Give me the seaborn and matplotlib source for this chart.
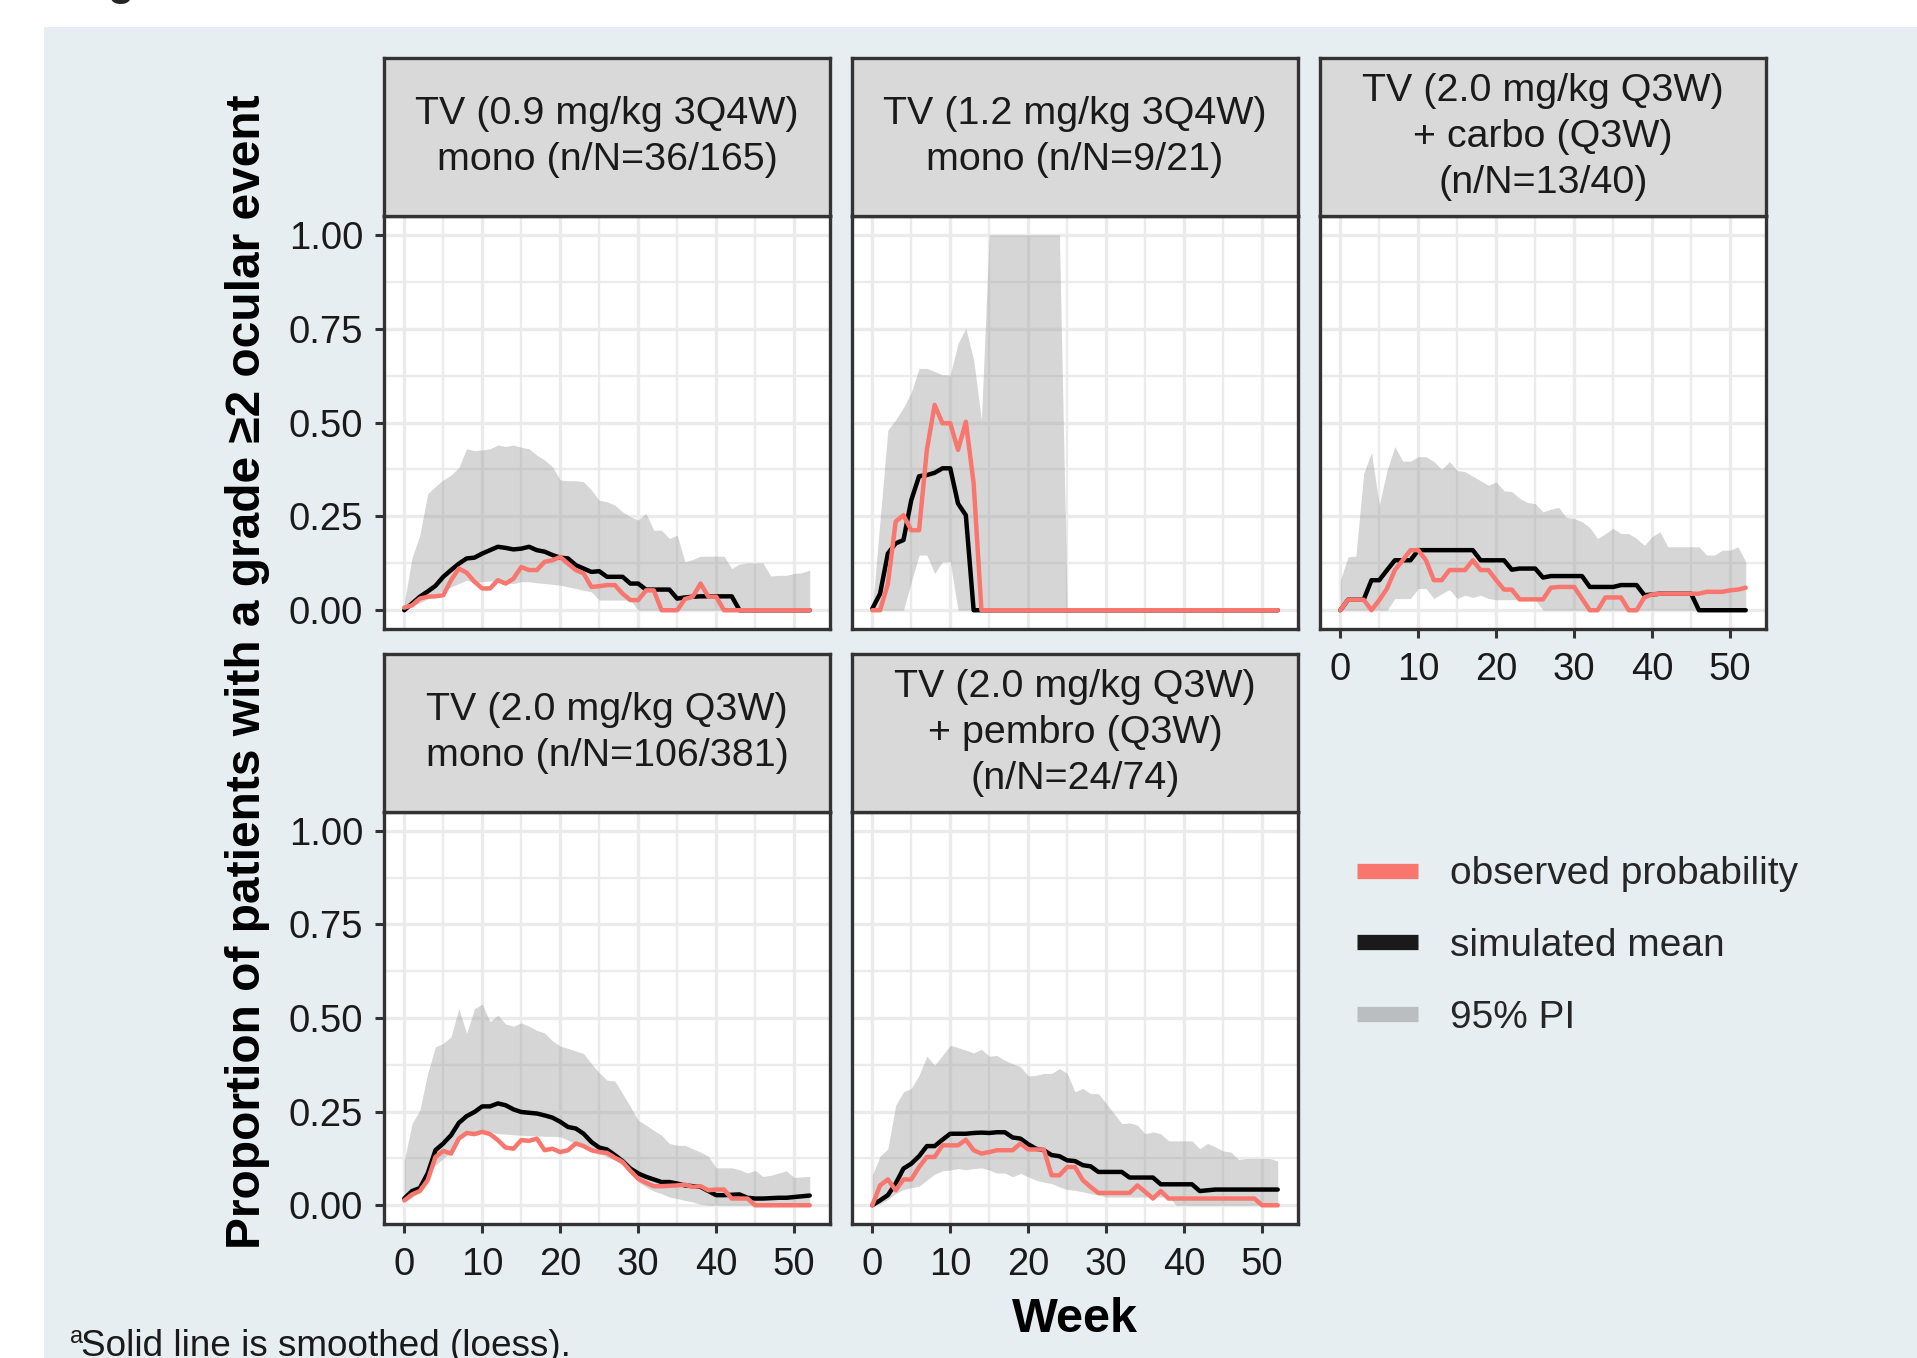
import matplotlib
matplotlib.use('Agg')
import matplotlib.pyplot as plt
import seaborn as sns
import pandas as pd
from matplotlib.lines import Line2D
from matplotlib.patches import Rectangle

# weeks 0..52, one value per week
weeks = list(range(53))

panel_labels = [
    'TV (0.9 mg/kg 3Q4W)\nmono (n/N=36/165)',
    'TV (1.2 mg/kg 3Q4W)\nmono (n/N=9/21)',
    'TV (2.0 mg/kg Q3W)\n+ carbo (Q3W)\n(n/N=13/40)',
    'TV (2.0 mg/kg Q3W)\nmono (n/N=106/381)',
    'TV (2.0 mg/kg Q3W)\n+ pembro (Q3W)\n(n/N=24/74)',
]

# panel 1
obs1 = [0.007, 0.013, 0.031, 0.036, 0.037, 0.04, 0.08, 0.111, 0.1, 0.076, 0.058, 0.058, 0.08, 0.071,
        0.084, 0.115, 0.107, 0.107, 0.129, 0.133, 0.142, 0.124, 0.107, 0.098, 0.062, 0.064, 0.067,
        0.067, 0.044, 0.027, 0.027, 0.053, 0.053, 0, 0, 0, 0.03, 0.036, 0.071, 0.036, 0.036, 0,
        0, 0, 0, 0, 0, 0, 0, 0, 0, 0, 0]
sim1 = [0, 0.018, 0.036, 0.05, 0.065, 0.089, 0.107, 0.124, 0.138, 0.14, 0.151, 0.16, 0.169, 0.166,
        0.162, 0.164, 0.169, 0.16, 0.156, 0.147, 0.14, 0.138, 0.12, 0.111, 0.102, 0.104, 0.089,
        0.089, 0.089, 0.071, 0.071, 0.055, 0.055, 0.055, 0.055, 0.031, 0.034, 0.036, 0.037, 0.037,
        0.037, 0.037, 0.037, 0, 0, 0, 0, 0, 0, 0, 0, 0, 0]
hi1 = [0.02, 0.14, 0.2, 0.31, 0.33, 0.347, 0.36, 0.38, 0.43, 0.425, 0.427, 0.43, 0.44, 0.436, 0.44,
       0.434, 0.43, 0.413, 0.4, 0.382, 0.347, 0.345, 0.345, 0.342, 0.32, 0.293, 0.289, 0.28, 0.262,
       0.249, 0.24, 0.258, 0.213, 0.213, 0.191, 0.2, 0.129, 0.135, 0.144, 0.144, 0.144, 0.144,
       0.111, 0.123, 0.126, 0.126, 0.126, 0.091, 0.093, 0.093, 0.098, 0.1, 0.107]
lo1 = [0, 0.01, 0.02, 0.03, 0.04, 0.053, 0.062, 0.071, 0.08, 0.073, 0.076, 0.078, 0.076, 0.071,
       0.071, 0.076, 0.076, 0.073, 0.071, 0.069, 0.067, 0.062, 0.058, 0.053, 0.049, 0.027, 0.027,
       0.027, 0.027, 0.027, 0, 0, 0, 0, 0, 0, 0, 0, 0, 0, 0, 0, 0, 0, 0, 0, 0, 0, 0, 0, 0, 0, 0]

# panel 2
obs2 = [0, 0, 0.07, 0.236, 0.253, 0.213, 0.213, 0.427, 0.547, 0.498, 0.498, 0.427, 0.502, 0.338,
        0, 0, 0, 0, 0, 0, 0, 0, 0, 0, 0, 0, 0, 0, 0, 0, 0, 0, 0, 0, 0, 0, 0, 0, 0, 0, 0, 0, 0,
        0, 0, 0, 0, 0, 0, 0, 0, 0, 0]
sim2 = [0.004, 0.044, 0.151, 0.178, 0.187, 0.293, 0.357, 0.36, 0.366, 0.378, 0.378, 0.284, 0.253,
        0, 0, 0, 0, 0, 0, 0, 0, 0, 0, 0, 0, 0, 0, 0, 0, 0, 0, 0, 0, 0, 0, 0, 0, 0, 0, 0, 0, 0,
        0, 0, 0, 0, 0, 0, 0, 0, 0, 0, 0]
hi2 = [0, 0.24, 0.48, 0.507, 0.54, 0.58, 0.644, 0.644, 0.636, 0.627, 0.627, 0.711, 0.751, 0.667,
       0.507, 1, 1, 1, 1, 1, 1, 1, 1, 1, 1, 0, 0, 0, 0, 0, 0, 0, 0, 0, 0, 0, 0, 0, 0, 0, 0, 0,
       0, 0, 0, 0, 0, 0, 0, 0, 0, 0, 0]
lo2 = [0, 0, 0, 0, 0, 0.075, 0.147, 0.147, 0.098, 0.129, 0.129, 0, 0, 0, 0, 0, 0, 0, 0, 0, 0, 0,
       0, 0, 0, 0, 0, 0, 0, 0, 0, 0, 0, 0, 0, 0, 0, 0, 0, 0, 0, 0, 0, 0, 0, 0, 0, 0, 0, 0, 0, 0, 0]

# panel 3
obs3 = [0, 0.028, 0.028, 0.028, 0, 0.027, 0.058, 0.107, 0.133, 0.16, 0.16, 0.133, 0.08, 0.08,
        0.107, 0.107, 0.107, 0.133, 0.107, 0.107, 0.08, 0.055, 0.055, 0.029, 0.029, 0.029, 0.029,
        0.06, 0.062, 0.062, 0.062, 0.031, 0, 0, 0.034, 0.034, 0.034, 0, 0, 0.034, 0.042, 0.044,
        0.044, 0.044, 0.044, 0.044, 0.044, 0.049, 0.049, 0.049, 0.053, 0.055, 0.06]
sim3 = [0, 0.028, 0.028, 0.028, 0.08, 0.08, 0.107, 0.133, 0.133, 0.133, 0.16, 0.16, 0.16, 0.16,
        0.16, 0.16, 0.16, 0.16, 0.133, 0.133, 0.133, 0.133, 0.108, 0.111, 0.111, 0.111, 0.087,
        0.091, 0.091, 0.091, 0.091, 0.091, 0.062, 0.062, 0.062, 0.062, 0.067, 0.067, 0.067, 0.04,
        0.042, 0.044, 0.044, 0.044, 0.044, 0.044, 0, 0, 0, 0, 0, 0, 0]
hi3 = [0.08, 0.142, 0.144, 0.364, 0.42, 0.28, 0.373, 0.436, 0.397, 0.397, 0.409, 0.409, 0.396,
       0.375, 0.396, 0.372, 0.369, 0.357, 0.345, 0.333, 0.342, 0.318, 0.316, 0.298, 0.287, 0.284,
       0.262, 0.269, 0.274, 0.247, 0.244, 0.236, 0.22, 0.191, 0.204, 0.218, 0.204, 0.204, 0.191,
       0.173, 0.196, 0.209, 0.169, 0.169, 0.169, 0.169, 0.169, 0.147, 0.147, 0.16, 0.16, 0.169,
       0.129]
lo3 = [0, 0, 0, 0, 0, 0, 0, 0.031, 0.031, 0.031, 0.058, 0.058, 0.031, 0.044, 0.055, 0.031, 0.04,
       0.034, 0.04, 0.031, 0.028, 0.028, 0.028, 0.028, 0.028, 0.028, 0, 0, 0, 0, 0, 0, 0, 0, 0,
       0, 0, 0, 0, 0, 0, 0, 0, 0, 0, 0, 0, 0, 0, 0, 0, 0, 0]

# panel 4
obs4 = [0.013, 0.029, 0.038, 0.067, 0.129, 0.145, 0.138, 0.178, 0.193, 0.19, 0.196, 0.19, 0.174,
        0.154, 0.151, 0.174, 0.172, 0.178, 0.147, 0.151, 0.142, 0.147, 0.165, 0.158, 0.147, 0.142,
        0.14, 0.127, 0.116, 0.092, 0.071, 0.06, 0.051, 0.051, 0.052, 0.053, 0.055, 0.049, 0.051,
        0.04, 0.042, 0.042, 0.018, 0.018, 0.018, 0, 0, 0, 0, 0, 0, 0, 0]
sim4 = [0.018, 0.038, 0.046, 0.085, 0.147, 0.165, 0.187, 0.22, 0.238, 0.249, 0.264, 0.264, 0.272,
        0.267, 0.256, 0.249, 0.247, 0.245, 0.24, 0.234, 0.223, 0.209, 0.205, 0.191, 0.169, 0.154,
        0.149, 0.134, 0.118, 0.098, 0.085, 0.076, 0.069, 0.062, 0.062, 0.058, 0.053, 0.051, 0.049,
        0.038, 0.027, 0.027, 0.028, 0.029, 0.02, 0.018, 0.018, 0.019, 0.02, 0.02, 0.022, 0.024,
        0.026]
hi4 = [0.12, 0.218, 0.254, 0.352, 0.423, 0.432, 0.45, 0.525, 0.459, 0.525, 0.537, 0.49, 0.508,
       0.484, 0.478, 0.487, 0.478, 0.467, 0.46, 0.439, 0.425, 0.419, 0.412, 0.405, 0.378, 0.354,
       0.334, 0.332, 0.298, 0.263, 0.227, 0.214, 0.2, 0.187, 0.165, 0.16, 0.16, 0.151, 0.142,
       0.131, 0.1, 0.1, 0.1, 0.095, 0.086, 0.093, 0.077, 0.08, 0.086, 0.092, 0.074, 0.076, 0.077]
lo4 = [0.009, 0.02, 0.04, 0.076, 0.107, 0.125, 0.142, 0.178, 0.196, 0.191, 0.2, 0.196, 0.191, 0.19,
       0.188, 0.187, 0.186, 0.185, 0.184, 0.184, 0.183, 0.174, 0.163, 0.156, 0.147, 0.138, 0.129,
       0.12, 0.107, 0.085, 0.062, 0.049, 0.038, 0.031, 0.022, 0.018, 0.013, 0.009, 0.003, 0, 0, 0,
       0, 0, 0, 0, 0, 0, 0, 0, 0, 0, 0]

# panel 5
obs5 = [0, 0.053, 0.069, 0.04, 0.069, 0.069, 0.102, 0.129, 0.129, 0.16, 0.16, 0.16, 0.175, 0.147,
        0.138, 0.142, 0.147, 0.147, 0.147, 0.165, 0.149, 0.149, 0.149, 0.08, 0.08, 0.102, 0.102,
        0.067, 0.049, 0.033, 0.033, 0.033, 0.033, 0.033, 0.053, 0.036, 0.018, 0.038, 0.018, 0.018,
        0.018, 0.018, 0.018, 0.018, 0.018, 0.018, 0.018, 0.018, 0.018, 0.018, 0, 0, 0]
sim5 = [0, 0.013, 0.027, 0.058, 0.098, 0.111, 0.131, 0.158, 0.158, 0.175, 0.191, 0.191, 0.191,
        0.193, 0.194, 0.193, 0.195, 0.195, 0.181, 0.178, 0.163, 0.151, 0.147, 0.134, 0.131, 0.12,
        0.118, 0.107, 0.104, 0.089, 0.089, 0.089, 0.089, 0.074, 0.074, 0.074, 0.074, 0.056, 0.056,
        0.056, 0.056, 0.056, 0.038, 0.04, 0.042, 0.042, 0.042, 0.042, 0.042, 0.042, 0.042, 0.042,
        0.042]
hi5 = [0.08, 0.131, 0.151, 0.267, 0.303, 0.312, 0.347, 0.398, 0.374, 0.4, 0.427, 0.421, 0.414,
       0.407, 0.416, 0.398, 0.4, 0.387, 0.378, 0.37, 0.345, 0.347, 0.352, 0.352, 0.365, 0.352,
       0.303, 0.312, 0.298, 0.298, 0.272, 0.245, 0.218, 0.22, 0.214, 0.191, 0.196, 0.191, 0.172,
       0.172, 0.172, 0.172, 0.151, 0.165, 0.156, 0.145, 0.142, 0.122, 0.125, 0.125, 0.125, 0.125,
       0.118]
lo5 = [0, 0.004, 0.015, 0.031, 0.042, 0.047, 0.051, 0.067, 0.083, 0.092, 0.094, 0.098, 0.095,
       0.098, 0.1, 0.094, 0.086, 0.086, 0.076, 0.085, 0.076, 0.067, 0.062, 0.058, 0.049, 0.042,
       0.04, 0.036, 0.031, 0.027, 0.022, 0.022, 0.022, 0.022, 0.022, 0.022, 0.022, 0.022, 0.022,
       0, 0, 0, 0, 0, 0, 0, 0, 0, 0, 0, 0, 0, 0]

panels = [(obs1, sim1, lo1, hi1), (obs2, sim2, lo2, hi2), (obs3, sim3, lo3, hi3),
          (obs4, sim4, lo4, hi4), (obs5, sim5, lo5, hi5)]

x_ticks = [0, 10, 20, 30, 40, 50]
y_ticks = [0.0, 0.25, 0.5, 0.75, 1.0]
y_tick_labels = ['0.00', '0.25', '0.50', '0.75', '1.00']

RED = '#F8766D'
DARK = '#333333'
BG = '#E7EEF1'

sns.set_theme(style='white')
plt.rcParams['font.family'] = ['Liberation Sans', 'DejaVu Sans']

W, H = 1917, 1358
fig = plt.figure(figsize=(W / 100, H / 100), dpi=100, facecolor='white')
fig.patches.append(Rectangle((44 / W, 0), 1 - 44 / W, 1 - 27 / H, transform=fig.transFigure,
                             facecolor=BG, edgecolor='none', zorder=-10))

col_left = [384, 852, 1320]
panel_w = 446
rows = [(58, 216, 629), (654, 812, 1224)]  # strip top, plot top, plot bottom
slots = [(0, 0), (0, 1), (0, 2), (1, 0), (1, 1)]

for i, (obs, sim, lo, hi) in enumerate(panels):
    r, c = slots[i]
    s_top, p_top, p_bot = rows[r]
    left = col_left[c]
    ax = fig.add_axes([left / W, 1 - p_bot / H, panel_w / W, (p_bot - p_top) / H])
    sax = fig.add_axes([left / W, 1 - p_top / H, panel_w / W, (p_top - s_top) / H])

    df = pd.DataFrame({
        'week': weeks * 2,
        'value': sim + obs,
        'series': ['simulated mean'] * 53 + ['observed probability'] * 53,
    })
    ax.fill_between(weeks, lo, hi, color='#999999', alpha=0.4, linewidth=0, zorder=2)
    sns.lineplot(data=df, x='week', y='value', hue='series',
                 hue_order=['simulated mean', 'observed probability'],
                 palette={'simulated mean': 'black', 'observed probability': RED},
                 estimator=None, linewidth=3.2, legend=False, ax=ax, zorder=3)

    ax.set_facecolor('white')
    ax.set_xlim(-2.6, 54.6)
    ax.set_ylim(-0.05, 1.05)
    ax.set_xticks(x_ticks)
    ax.set_xticks([5, 15, 25, 35, 45], minor=True)
    ax.set_yticks(y_ticks)
    ax.set_yticks([0.125, 0.375, 0.625, 0.875], minor=True)
    ax.set_yticklabels(y_tick_labels)
    ax.grid(which='major', color='#EBEBEB', linewidth=2.4)
    ax.grid(which='minor', color='#EBEBEB', linewidth=1.7)
    ax.set_axisbelow(True)
    ax.set_xlabel('')
    ax.set_ylabel('')
    for sp in ax.spines.values():
        sp.set_color(DARK)
        sp.set_linewidth(2.4)
        sp.set_zorder(5)
    ax.tick_params(which='major', length=6.5, width=2.2, color=DARK, labelsize=27.5,
                   labelcolor='#1A1A1A')
    ax.tick_params(axis='x', pad=10)
    ax.tick_params(axis='y', pad=8.5)
    ax.tick_params(which='minor', length=0)
    show_x = (r == 1) or (i == 2)
    show_y = (c == 0)
    ax.tick_params(axis='x', bottom=show_x, labelbottom=show_x)
    ax.tick_params(axis='y', left=show_y, labelleft=show_y)

    sax.set_facecolor('#D9D9D9')
    sax.set_xticks([])
    sax.set_yticks([])
    for sp in sax.spines.values():
        sp.set_color(DARK)
        sp.set_linewidth(2.4)
    sax.text(0.5, 0.5, panel_labels[i], ha='center', va='center', fontsize=28.4,
             color='#1A1A1A', linespacing=1.36, transform=sax.transAxes)

# shared axis titles
fig.text(248 / W, 1 - 672 / H, 'Proportion of patients with a grade \u22652 ocular event',
         rotation=90, ha='center', va='center', fontsize=34.5, fontweight='bold', color='black')
fig.text(1075 / W, 1 - 1320 / H, 'Week', ha='center', va='center', fontsize=35,
         fontweight='bold', color='black')

# legend
handles = [Line2D([], [], color=RED, linewidth=11, solid_capstyle='butt'),
           Line2D([], [], color='#1A1A1A', linewidth=11, solid_capstyle='butt'),
           Line2D([], [], color='#BABEC0', linewidth=11, solid_capstyle='butt')]
fig.legend(handles, ['observed probability', 'simulated mean', '95% PI'],
           loc='center left', bbox_to_anchor=(1357 / W, 1 - 946 / H), frameon=False,
           fontsize=28, handlelength=1.57, handletextpad=0.82, labelspacing=0.92,
           borderpad=0, borderaxespad=0)

# footnote and the cut-off title above the figure
fig.text(70 / W, 15 / H, 'a', fontsize=17, color='#1A1A1A', va='baseline')
fig.text(81 / W, 1.5 / H, 'Solid line is smoothed (loess).', fontsize=26.6, color='#1A1A1A',
         va='baseline')
fig.text(70 / W, 1 + 5 / H, 'Figure', fontsize=31, fontweight='bold', va='baseline')

fig.savefig('out.png', dpi=100)
plt.close(fig)
